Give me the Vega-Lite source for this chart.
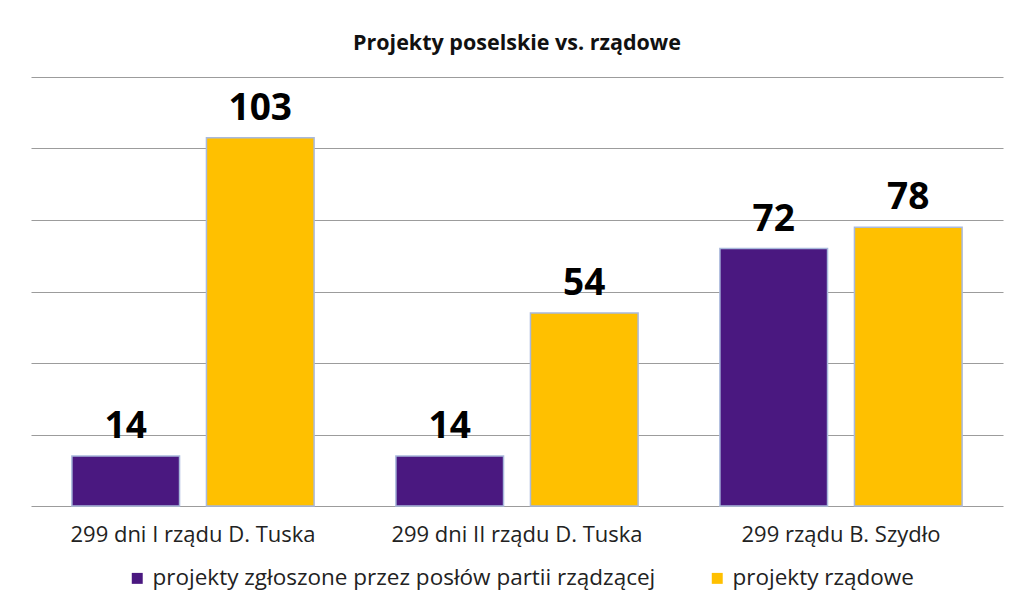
{
  "$schema": "https://vega.github.io/schema/vega-lite/v6.json",
  "width": 972,
  "height": 429,
  "autosize": "none",
  "padding": {"left": 31, "top": 77, "right": 9, "bottom": 95},
  "background": "white",
  "config": {"view": {"stroke": null}, "font": "Open Sans"},
  "title": {
    "text": "Projekty poselskie vs. rządowe",
    "font": "Open Sans",
    "fontSize": 21.5,
    "fontWeight": "bold",
    "color": "#111111",
    "anchor": "middle",
    "offset": 23
  },
  "data": {
    "values": [
      {"okres": "299 dni I rządu D. Tuska", "seria": "projekty zgłoszone przez posłów partii rządzącej", "liczba": 14},
      {"okres": "299 dni I rządu D. Tuska", "seria": "projekty rządowe", "liczba": 103},
      {"okres": "299 dni II rządu D. Tuska", "seria": "projekty zgłoszone przez posłów partii rządzącej", "liczba": 14},
      {"okres": "299 dni II rządu D. Tuska", "seria": "projekty rządowe", "liczba": 54},
      {"okres": "299 rządu B. Szydło", "seria": "projekty zgłoszone przez posłów partii rządzącej", "liczba": 72},
      {"okres": "299 rządu B. Szydło", "seria": "projekty rządowe", "liczba": 78}
    ]
  },
  "encoding": {
    "x": {
      "field": "okres",
      "type": "nominal",
      "sort": null,
      "title": null,
      "scale": {"paddingInner": 0, "paddingOuter": 0},
      "axis": {
        "labelAngle": 0,
        "labelFont": "Open Sans",
        "labelFontSize": 22,
        "labelColor": "#222222",
        "labelPadding": 18,
        "labelLimit": 0,
        "ticks": false,
        "domain": false
      }
    },
    "xOffset": {
      "field": "seria",
      "sort": ["projekty zgłoszone przez posłów partii rządzącej", "projekty rządowe"],
      "scale": {"paddingInner": 0.2, "paddingOuter": 0.304}
    },
    "y": {
      "field": "liczba",
      "type": "quantitative",
      "title": null,
      "scale": {"domain": [0, 120], "nice": false},
      "axis": {
        "values": [0, 20, 40, 60, 80, 100, 120],
        "labels": false,
        "ticks": false,
        "domain": false,
        "grid": true,
        "gridColor": "#9c9c9c",
        "gridWidth": 1.2
      }
    }
  },
  "layer": [
    {
      "mark": {"type": "bar", "stroke": "#a9b9dc", "strokeWidth": 1.5},
      "encoding": {
        "color": {
          "field": "seria",
          "type": "nominal",
          "sort": ["projekty zgłoszone przez posłów partii rządzącej", "projekty rządowe"],
          "scale": {
            "domain": ["projekty zgłoszone przez posłów partii rządzącej", "projekty rządowe"],
            "range": ["#4a1880", "#ffc000"]
          },
          "legend": {
            "title": null,
            "orient": "none",
            "legendX": 95,
            "legendY": 490,
            "direction": "horizontal",
            "symbolType": "square",
            "symbolSize": 120,
            "symbolStrokeWidth": 0,
            "labelFont": "Open Sans",
            "labelFontSize": 22.5,
            "labelColor": "#222222",
            "labelLimit": 0,
            "columnPadding": 50
          }
        }
      }
    },
    {
      "mark": {
        "type": "text",
        "baseline": "alphabetic",
        "dy": -18,
        "font": "Open Sans",
        "fontSize": 37,
        "fontWeight": "bold",
        "color": "#000000"
      },
      "encoding": {
        "text": {"field": "liczba", "type": "quantitative"}
      }
    }
  ]
}
